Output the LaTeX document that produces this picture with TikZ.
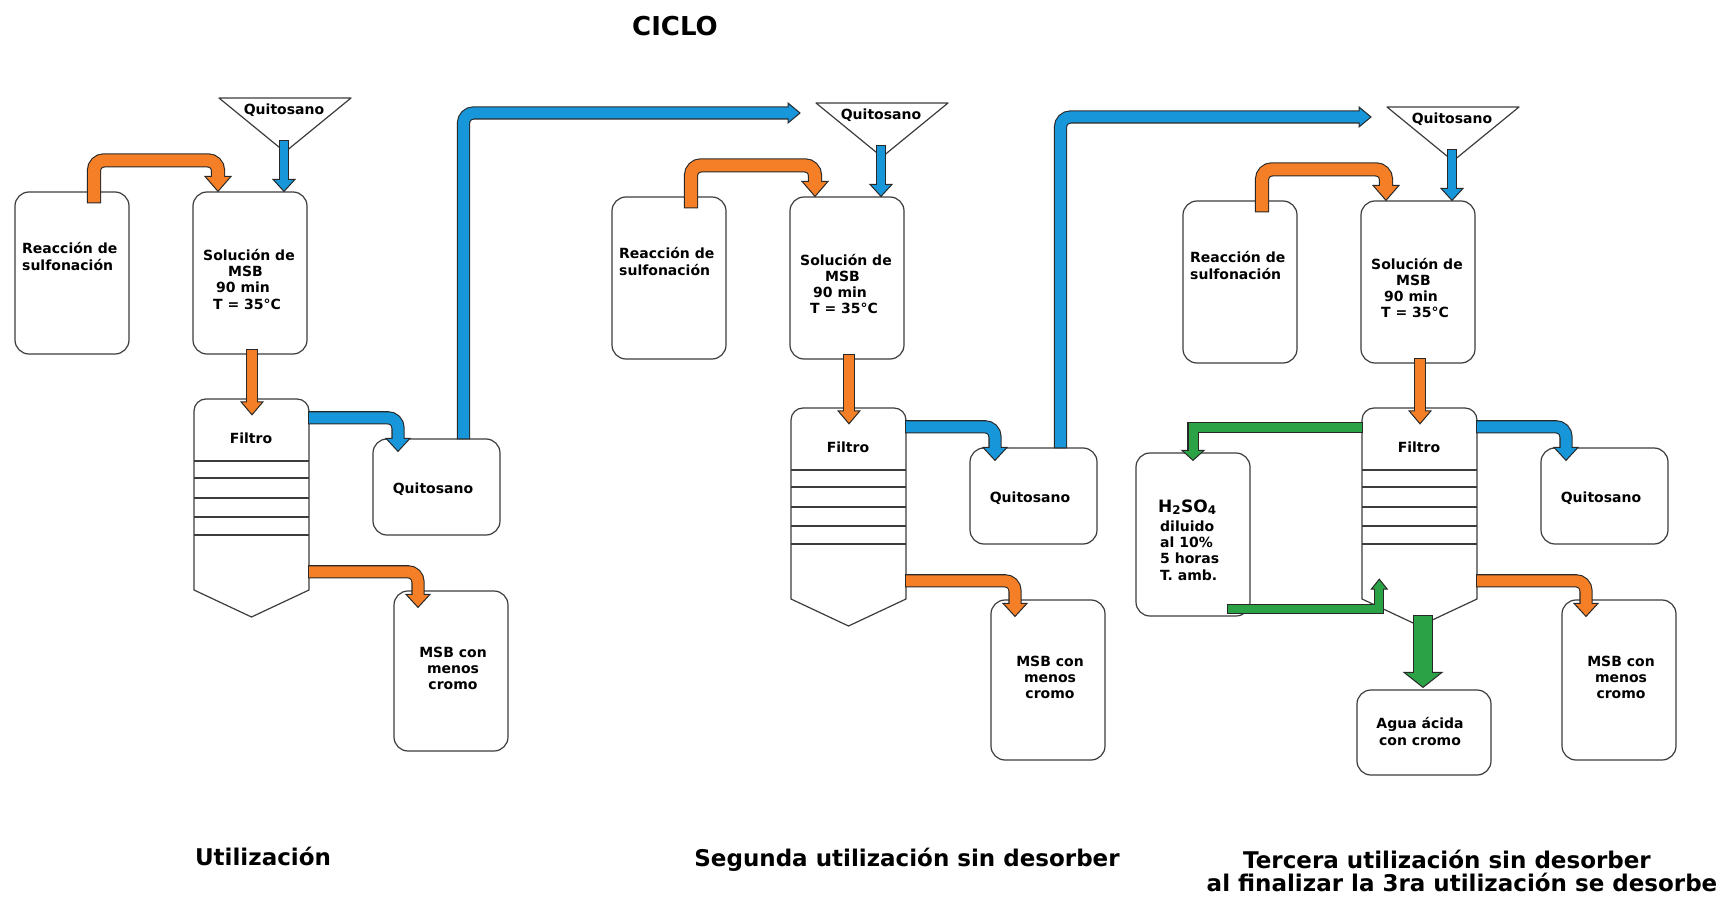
\documentclass[tikz,border=0pt]{standalone}
\usepackage{fontspec}
\setmainfont{DejaVu Sans}

\definecolor{pipeorange}{RGB}{245,127,38}
\definecolor{pipeblue}{RGB}{24,150,218}
\definecolor{pipegreen}{RGB}{44,162,70}
\definecolor{edgecol}{RGB}{40,40,40}
\definecolor{boxcol}{RGB}{60,60,60}

\tikzset{
  boxline/.style={draw=boxcol, line width=1.2pt, line join=round},
  vessel/.style={boxline, rounded corners=14pt, minimum width=114pt,
    minimum height=162pt, inner sep=0pt},
  txt/.style={font=\bfseries\fontsize{14}{16.3}\selectfont, inner sep=0pt, anchor=base},
  heading/.style={font=\bfseries\fontsize{23}{26}\selectfont, inner sep=0pt, anchor=base},
}

% Fat outlined pipe with a triangular head.
% #1 colour, #2 core width, #3 head half-width, #4 head length,
% #5 head direction, #6 corner radius, #7 tip, #8 path ending at the tip
\newcommand\fatarrow[8]{%
  \pgfmathsetmacro\fatouter{#2+2.2}%
  \pgfmathsetmacro\fatinner{#4-1.6}%
  \draw[draw=edgecol, line width=\fatouter pt, rounded corners=#6pt,
        shorten >=#4pt, shorten <=-1pt] #8;
  \filldraw[fill=#1, draw=edgecol, line width=1pt, line join=miter,
        shift={#7}, rotate=#5] (0,0) -- (-#4,#3) -- (-#4,-#3) -- cycle;
  \draw[draw=#1, line width=#2pt, rounded corners=#6pt, shorten >=\fatinner pt] #8;
}

% One use of the sorbent: feed, solution, filter and products.
% Multi-line texts are placed by the baseline of their last line.
% #1 name prefix, #2 shift of the upper row, #3 shift of the lower row
\newcommand\cyclepanel[3]{%
\begin{scope}[shift={#2}, name prefix=#1-]
  \node[vessel] (reac) at (72,-273) {};
  \node[vessel] (sol) at (250,-273) {};
  \draw[boxline] (219,-98) -- (351,-98) -- (285,-152) -- cycle;
  \node[txt] (hopper) at (284,-115) {Quitosano};
  \coordinate (hopper-out) at (284,-141);
  \node[txt, align=left, anchor=base west] (reac-t) at (22,-270.3)
    {Reacción de\\sulfonación};
  \node[txt, align=left, anchor=base west] (sol-t) at (203,-309)
    {Solución de\\\hspace*{25pt}MSB\\\hspace*{13pt}90 min\\\hspace*{10pt}T = 35°C};
\end{scope}
\begin{scope}[shift={#3}, name prefix=#1-]
  \node[inner sep=0pt, minimum width=115pt, minimum height=218pt] (filt) at (251.5,-508) {};
  \draw[boxline] (194,-590) -- (194,-411) arc[start angle=180, end angle=90, radius=12]
    -- (297,-399) arc[start angle=90, end angle=0, radius=12]
    -- (309,-590) -- (251.5,-617) -- cycle;
  \foreach \yy in {461,478,498,517,535} \draw[boxline] (194,-\yy) -- (309,-\yy);
  \node[txt] (filt-t) at (251,-443) {Filtro};
  \node[vessel, minimum width=127pt, minimum height=96pt] (quit) at (436.5,-487) {};
  \node[txt] (quit-t) at (433,-493) {Quitosano};
  \node[vessel, minimum height=160pt] (msb) at (451,-671) {};
  \node[txt, align=center] (msb-t) at (453,-689.6) {MSB con\\menos\\cromo};
\end{scope}
\begin{scope}[name prefix=#1-]
  \fatarrow{pipeorange}{12}{13}{15}{-90}{10}{([xshift=-32pt]sol.north)}
    {([xshift=22pt,yshift=-11pt]reac.north) |- ([xshift=-32pt,yshift=31pt]sol.north)
     -- ([xshift=-32pt]sol.north)}
  \fatarrow{pipeblue}{8}{11}{12}{-90}{10}{([xshift=34pt]sol.north)}
    {(hopper-out) -- ([xshift=34pt]sol.north)}
  \fatarrow{pipeorange}{10}{11}{13}{-90}{10}{([xshift=0.5pt,yshift=-16pt]filt.north)}
    {([xshift=2pt,yshift=5pt]sol.south) -- ([xshift=0.5pt,yshift=-16pt]filt.north)}
  \fatarrow{pipeblue}{11}{12}{13}{-90}{10}{([xshift=-38.5pt,yshift=-13pt]quit.north)}
    {([yshift=-19pt]filt.north east) -| ([xshift=-38.5pt,yshift=-13pt]quit.north)}
  \fatarrow{pipeorange}{11}{12}{13}{-90}{10}{([xshift=-33pt,yshift=-17pt]msb.north)}
    {([yshift=-173pt]filt.north east) -| ([xshift=-33pt,yshift=-17pt]msb.north)}
\end{scope}
}

\begin{document}
\begin{tikzpicture}[x=1pt, y=1pt]
  \fill[white] (0,0) rectangle (1719,-901);
  \useasboundingbox (0,0) rectangle (1719,-901);

  \node[heading, font=\bfseries\fontsize{26}{30}\selectfont] (title) at (675,-36) {CICLO};

  \cyclepanel{p1}{(0,0)}{(0,0)}
  \cyclepanel{p2}{(597,-5)}{(597,-9)}
  \cyclepanel{p3}{(1168,-9)}{(1168,-9)}

  % sorbent carried on to the next use
  \coordinate (p2in) at (800,-113);
  \coordinate (p3in) at (1371,-117);
  \fatarrow{pipeblue}{11}{10}{12}{0}{10}{(p2in)}{([xshift=27pt]p1-quit.north) |- (p2in)}
  \fatarrow{pipeblue}{11}{10}{12}{0}{10}{(p3in)}{([xshift=27pt]p2-quit.north) |- (p3in)}

  % desorption after the third use
  \node[vessel, minimum height=163pt] (p3-acid) at (1193,-534.5) {};
  \node[txt, anchor=base west, font=\bfseries\fontsize{17}{20}\selectfont] (p3-acid-f) at (1158,-512)
    {H\textsubscript{2}SO\textsubscript{4}};
  \node[txt, align=left, anchor=base west] (p3-acid-t) at (1160,-580)
    {diluido\\al 10\%\\5 horas\\T. amb.};
  \node[vessel, minimum width=134pt, minimum height=85pt] (p3-agua) at (1424,-732.5) {};
  \node[txt, align=center] (p3-agua-t) at (1420,-745) {Agua ácida\\con cromo};

  \fatarrow{pipegreen}{9}{11}{10}{-90}{0}{([yshift=-8pt]p3-acid.north)}
    {([yshift=-20pt]p3-filt.north west) -| ([yshift=-8pt]p3-acid.north)}
  \fatarrow{pipegreen}{8}{8}{10}{90}{0}{([xshift=17.5pt,yshift=47pt]p3-filt.south west)}
    {([xshift=35pt,yshift=8pt]p3-acid.south) -| ([xshift=17.5pt,yshift=47pt]p3-filt.south west)}
  \fatarrow{pipegreen}{18}{19}{15}{-90}{10}{([xshift=-1pt,yshift=2pt]p3-agua.north)}
    {([xshift=3.5pt,yshift=10pt]p3-filt.south) -- ([xshift=-1pt,yshift=2pt]p3-agua.north)}

  % captions
  \node[heading] (cap1) at (263,-865) {Utilización};
  \node[heading] (cap2) at (907,-866) {Segunda utilización sin desorber};
  \node[heading] (cap3a) at (1447,-868) {Tercera utilización sin desorber};
  \node[heading] (cap3b) at (1462,-891) {al finalizar la 3ra utilización se desorbe};
\end{tikzpicture}
\end{document}
